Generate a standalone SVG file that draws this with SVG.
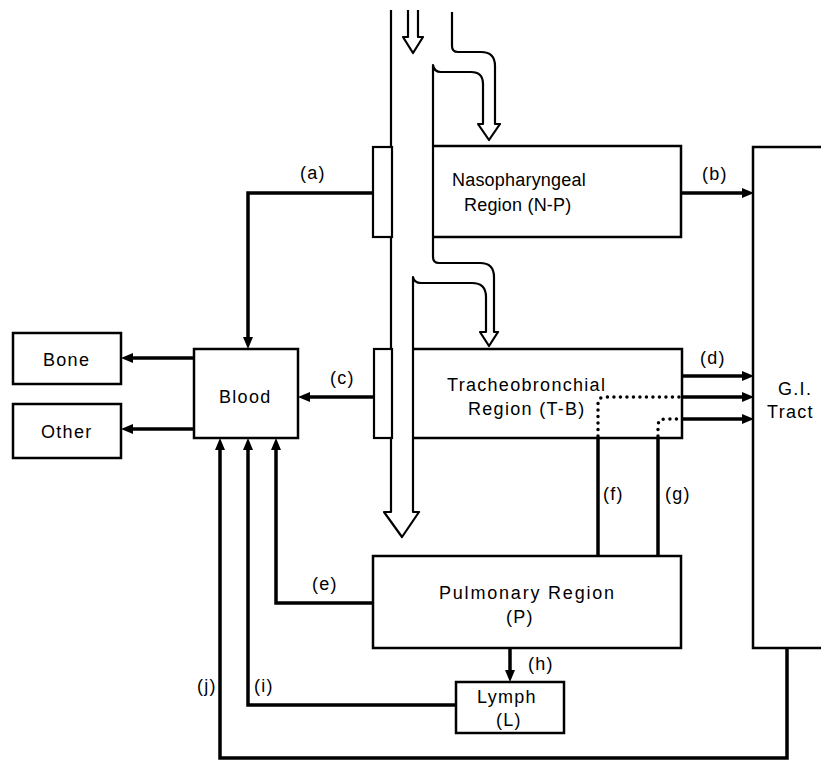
<svg xmlns="http://www.w3.org/2000/svg" width="821" height="762" viewBox="0 0 821 762">
<style>
  .box { fill: none; stroke: #000; stroke-width: 2.5; }
  .mem { fill: #fff; stroke: #000; stroke-width: 2.2; }
  .tube { fill: none; stroke: #000; stroke-width: 2.2; stroke-linejoin: round; }
  .con { fill: none; stroke: #000; stroke-width: 3.5; }
  .dot { fill: none; stroke: #000; stroke-width: 3.5; stroke-linecap: round; stroke-dasharray: 0 6.5; }
  text { font-family: "Liberation Sans", Arial, sans-serif; font-size: 18px; letter-spacing: 1.3px; fill: #000; }
  .tight { letter-spacing: 0.2px; }
  .wide { letter-spacing: 1.8px; }
</style>
<defs>
  <marker id="ah" viewBox="0 0 12 10" refX="6" refY="5" markerWidth="12" markerHeight="10" markerUnits="userSpaceOnUse" orient="auto">
    <path d="M0,0 L12,5 L0,10 z" fill="#000"/>
  </marker>
</defs>

<g id="airway">
  <path class="tube" d="M391,10 V512 H384 L402,537 L419,512 H413 V277 Q414,283 421,283 H472 Q486,283 486,297 V332 H480 L489,346 L498,332 H494 V277 Q494,263 480,263 H439 Q433,263 433,257 V65 Q434,72 441,72 H471 Q483,72 483,84 V124 H478 L489,140 L500,124 H495 V66 Q495,52 481,52 H458 Q452,52 452,46 V12"/>
  <path class="tube" d="M408,10 V37 H403 L413,53 L423,37 H418 V10"/>
</g>

<g id="connectors">
  <path class="con" d="M373,193 H248 V343" marker-end="url(#ah)"/>
  <path class="con" d="M681,193 H748" marker-end="url(#ah)"/>
  <path class="con" d="M374,397 H304" marker-end="url(#ah)"/>
  <path class="con" d="M194,358 H127" marker-end="url(#ah)"/>
  <path class="con" d="M194,429 H127" marker-end="url(#ah)"/>
  <path class="con" d="M682,376 H748" marker-end="url(#ah)"/>
  <path class="con" d="M682,397 H748" marker-end="url(#ah)"/>
  <path class="con" d="M682,419 H748" marker-end="url(#ah)"/>
  <path class="dot" d="M598,436 V404 Q598,397 605,397 H680"/>
  <path class="dot" d="M658,436 V426 Q658,419 665,419 H680"/>
  <path class="con" d="M598,438 V556"/>
  <path class="con" d="M658,438 V556"/>
  <path class="con" d="M373,603 H276 V444" marker-end="url(#ah)"/>
  <path class="con" d="M456,705 H248 V444" marker-end="url(#ah)"/>
  <path class="con" d="M787,648 V758 H220 V444" marker-end="url(#ah)"/>
  <path class="con" d="M510,648 V676" stroke-width="4.5" marker-end="url(#ah)"/>
  <text x="300" y="179">(a)</text>
  <text x="702" y="180">(b)</text>
  <text x="330" y="384">(c)</text>
  <text x="700" y="364">(d)</text>
  <text x="312" y="590">(e)</text>
  <text x="603" y="500">(f)</text>
  <text x="665" y="500">(g)</text>
  <text x="528" y="670">(h)</text>
  <text x="254" y="692">(i)</text>
  <text x="197" y="692">(j)</text>
</g>

<g id="np-membrane"><rect class="mem" x="373" y="147" width="19" height="90"/></g>
<g id="tb-membrane"><rect class="mem" x="374" y="349" width="18" height="89"/></g>

<g id="np">
  <path class="box" d="M433,146 H681 V237 H433"/>
  <text class="tight" x="452" y="186">Nasopharyngeal</text>
  <text class="tight" x="464" y="211">Region (N-P)</text>
</g>

<g id="tb">
  <path class="box" d="M414,349 H682 V438 H414"/>
  <text x="447" y="391">Tracheobronchial</text>
  <text x="468" y="415">Region (T-B)</text>
</g>

<g id="pulmonary">
  <rect class="box" x="373" y="556" width="308" height="92"/>
  <text class="wide" x="439" y="599">Pulmonary Region</text>
  <text x="506" y="623">(P)</text>
</g>

<g id="lymph">
  <rect class="box" x="456" y="682" width="108" height="51"/>
  <text x="477" y="703">Lymph</text>
  <text x="496" y="726">(L)</text>
</g>

<g id="blood">
  <rect class="box" x="194" y="349" width="104" height="89"/>
  <text x="219" y="403">Blood</text>
</g>

<g id="bone">
  <rect class="box" x="13" y="333" width="108" height="51"/>
  <text x="43" y="366">Bone</text>
</g>

<g id="other">
  <rect class="box" x="13" y="404" width="108" height="54"/>
  <text x="41" y="438">Other</text>
</g>

<g id="gi">
  <path class="box" d="M823,147 H753 V648 H823"/>
  <text x="778" y="395">G.I.</text>
  <text x="767" y="418">Tract</text>
</g>
</svg>
